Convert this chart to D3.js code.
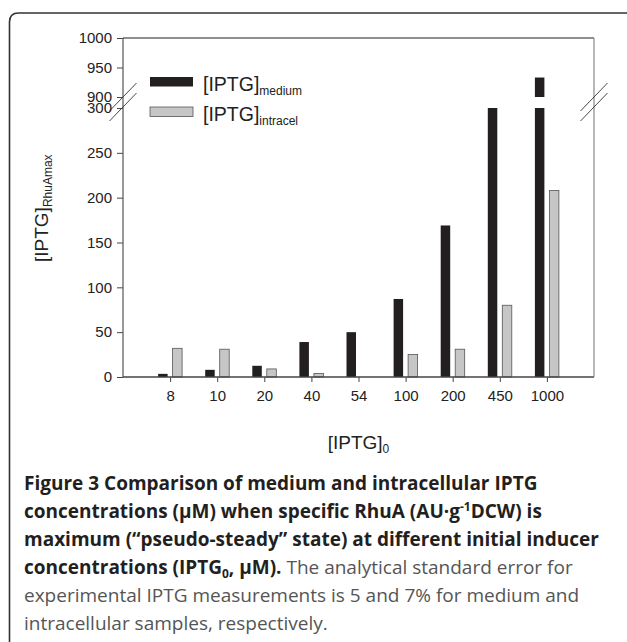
<!DOCTYPE html>
<meta charset="utf-8">
<style>
body { margin: 0; background: #fff; }
svg { display: block; }
.tick text { font-family: "Liberation Sans", Arial, sans-serif; font-size: 15px; fill: #222; }
.tick line { stroke: #444; }
.domain { display: none; }
.lbl { font-family: "Liberation Sans", Arial, sans-serif; fill: #222; }
.cap { font-family: "Open Sans", sans-serif; font-size: 19px; }
</style>
<body>
<script src="https://cdnjs.cloudflare.com/ajax/libs/d3/7.8.5/d3.min.js"></script>
<script>
// data
var categories = ["8", "10", "20", "40", "54", "100", "200", "450", "1000"];
var medium   = [3.5, 8, 12.5, 39, 50, 87, 169, 420, 933];
var intracel = [32, 31, 9, 4, 0, 25, 31, 80, 208];
var lowTicks  = [0, 50, 100, 150, 200, 250, 300];
var highTicks = [900, 950, 1000];

var W = 627, H = 642;
var plotL = 123, plotR = 594, plotT = 38, plotB = 377;

var svg = d3.select("body").append("svg")
    .attr("width", W)
    .attr("height", H);

// outer frame (rounded top-left corner, cut at right and bottom)
svg.append("path")
    .attr("d", "M9.5," + H + " L9.5,22 Q9.5,13 18.5,13 L" + W + ",13")
    .attr("fill", "none")
    .attr("stroke", "#333")
    .attr("stroke-width", 1.6);

// scales (broken y axis: two segments)
var x = d3.scalePoint().domain(categories).range([plotL, plotR]).padding(1);
var yLow = d3.scaleLinear().domain([0, 300]).range([plotB, 108]);
var yHigh = d3.scaleLinear().domain([900, 1000]).range([97, plotT]);

var barW = 9.5, gap = 2.5;

// bars
function drawBars(vals, cls, dx) {
  var g = svg.append("g").attr("class", cls);
  vals.forEach(function(v, i) {
    if (v <= 0) return;
    var bx = x(categories[i]) + dx;
    var lo = Math.min(v, 300);
    g.append("rect")
        .attr("x", bx).attr("width", barW)
        .attr("y", yLow(lo)).attr("height", yLow(0) - yLow(lo));
    if (v > 900) {
      var hi = Math.min(v, 1000);
      g.append("rect")
          .attr("x", bx).attr("width", barW)
          .attr("y", yHigh(hi)).attr("height", yHigh(900) - yHigh(hi));
    }
  });
  return g;
}
drawBars(medium, "med", -gap - barW).selectAll("rect").attr("fill", "#231f20");
drawBars(intracel, "intra", gap).selectAll("rect")
    .attr("fill", "#c6c6c6").attr("stroke", "#555").attr("stroke-width", 0.8);

// axes
svg.append("g")
    .attr("transform", "translate(" + plotL + ",0)")
    .call(d3.axisLeft(yLow).tickValues(lowTicks).tickFormat(d3.format("d"))
      .tickSize(6).tickPadding(5).tickSizeOuter(0));
svg.append("g")
    .attr("transform", "translate(" + plotL + ",0)")
    .call(d3.axisLeft(yHigh).tickValues(highTicks).tickFormat(d3.format("d"))
      .tickSize(6).tickPadding(5).tickSizeOuter(0));
svg.append("g")
    .attr("transform", "translate(0," + plotB + ")")
    .call(d3.axisBottom(x).tickSize(5).tickPadding(8).tickSizeOuter(0));

// plot frame
svg.append("line").attr("x1", plotL).attr("x2", plotL).attr("y1", plotT).attr("y2", plotB)
    .attr("stroke", "#555").attr("stroke-width", 1.2);
svg.append("line").attr("x1", plotL).attr("x2", plotR).attr("y1", plotB).attr("y2", plotB)
    .attr("stroke", "#444").attr("stroke-width", 1.4);
svg.append("line").attr("x1", plotL).attr("x2", plotR).attr("y1", plotT).attr("y2", plotT)
    .attr("stroke", "#222").attr("stroke-width", 1.2);
svg.append("line").attr("x1", plotR).attr("x2", plotR).attr("y1", plotT).attr("y2", plotB)
    .attr("stroke", "#888").attr("stroke-width", 1.2);

// axis break marks
[plotL, plotR].forEach(function(cx) {
  [0, 10].forEach(function(off) {
    svg.append("line")
        .attr("x1", cx - 13.5).attr("y1", 111 + off)
        .attr("x2", cx + 13.5).attr("y2", 83 + off)
        .attr("stroke", "#333").attr("stroke-width", 0.9);
  });
});

// legend
var legend = [["medium", "#231f20", null], ["intracel", "#c6c6c6", "#555"]];
legend.forEach(function(d, i) {
  var ly = 77 + i * 30;
  svg.append("rect")
      .attr("x", 150).attr("y", ly).attr("width", 43).attr("height", 9.5)
      .attr("fill", d[1]).attr("stroke", d[2] || "none").attr("stroke-width", 0.8);
  var t = svg.append("text").attr("class", "lbl")
      .attr("x", 203).attr("y", ly + 13.5)
      .style("font-size", "19.5px");
  t.append("tspan").text("[IPTG]");
  t.append("tspan").attr("dy", 4).style("font-size", "12px").text(d[0]);
});

// y title
var yt = svg.append("text").attr("class", "lbl")
    .attr("transform", "translate(48,262) rotate(-90)")
    .style("font-size", "19px");
yt.append("tspan").text("[IPTG]");
yt.append("tspan").attr("dy", 4).style("font-size", "12px").text("RhuAmax");

// x title
var xt = svg.append("text").attr("class", "lbl")
    .attr("x", (plotL + plotR) / 2).attr("y", 449)
    .attr("text-anchor", "middle")
    .style("font-size", "19px");
xt.append("tspan").text("[IPTG]");
xt.append("tspan").attr("dy", 4).style("font-size", "12px").text("0");

// caption
var capX = 24, capY = 490, lh = 28;
var dark = "#231f20", grey = "#555";
svg.append("text").attr("class", "cap").attr("x", capX).attr("y", capY)
    .attr("fill", dark).style("font-weight", "bold")
    .text("Figure 3 Comparison of medium and intracellular IPTG");
var c2 = svg.append("text").attr("class", "cap").attr("x", capX).attr("y", capY + lh)
    .attr("fill", dark).style("font-weight", "bold");
c2.append("tspan").text("concentrations (\u03bcM) when specific RhuA (AU\u00b7g");
c2.append("tspan").attr("dy", -7).style("font-size", "12px").text("-1");
c2.append("tspan").attr("dy", 7).text("DCW) is");
svg.append("text").attr("class", "cap").attr("x", capX).attr("y", capY + 2 * lh)
    .attr("fill", dark).style("font-weight", "bold")
    .text("maximum (\u201cpseudo-steady\u201d state) at different initial inducer");
var c4 = svg.append("text").attr("class", "cap").attr("x", capX).attr("y", capY + 3 * lh)
    .attr("fill", dark);
c4.append("tspan").style("font-weight", "bold").text("concentrations (IPTG");
c4.append("tspan").style("font-weight", "bold").attr("dy", 4).style("font-size", "12px").text("0");
c4.append("tspan").style("font-weight", "bold").attr("dy", -4).text(", \u03bcM).");
c4.append("tspan").attr("fill", grey).text(" The analytical standard error for");
svg.append("text").attr("class", "cap").attr("x", capX).attr("y", capY + 4 * lh)
    .attr("fill", grey)
    .text("experimental IPTG measurements is 5 and 7% for medium and");
svg.append("text").attr("class", "cap").attr("x", capX).attr("y", capY + 5 * lh)
    .attr("fill", grey)
    .text("intracellular samples, respectively.");
</script>
</body>
